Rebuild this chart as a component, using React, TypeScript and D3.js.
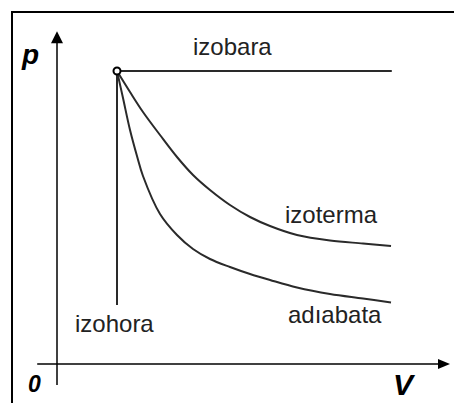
import React, { useRef, useEffect } from 'react';
import * as d3 from 'd3';

// p-V diagram: values (V in units of V0, p in units where p0 = 10)
const stateV = 1;
const stateP = 10;

const isobarV = [1, 5.58];
const isobarP = [10, 10];

const isochoreV = [1, 1];
const isochoreP = [10, 2.01];

const isothermV = [1.0, 1.217, 1.433, 1.717, 2.0, 2.267, 2.55, 2.883, 3.217, 3.55, 4.0, 4.55, 5.1, 5.567];
const isothermP = [10.0, 9.283, 8.601, 7.816, 7.065, 6.451, 5.939, 5.427, 5.017, 4.71, 4.403, 4.215, 4.113, 4.027];

const adiabatV = [1.0, 1.1, 1.217, 1.333, 1.433, 1.717, 2.0, 2.267, 2.55, 2.883, 3.217, 3.55, 4.0, 4.55, 5.1, 5.567];
const adiabatP = [10.0, 9.078, 7.986, 7.099, 6.416, 5.119, 4.403, 3.925, 3.584, 3.311, 3.072, 2.867, 2.611, 2.389, 2.235, 2.099];

const axisV = [-0.33, 6.55];
const axisP = [-0.72, 11.36];

const width = 454;
const height = 403;

const App: React.FC = () => {
    const svgRef = useRef<SVGSVGElement | null>(null);

    useEffect(() => {
        if (!svgRef.current) return;
        const svg = d3.select(svgRef.current);
        svg.selectAll('*').remove();

        // origin of the axes at (57, 364)
        const x = d3.scaleLinear().domain([0, 1]).range([57, 117]);
        const y = d3.scaleLinear().domain([0, 10]).range([364, 71]);

        const font = '"Liberation Sans", Arial, sans-serif';
        const lineColor = '#2a2a2a';

        svg.append('rect').attr('width', width).attr('height', height).attr('fill', '#fff');

        // frame (only top and left edges are visible)
        svg.append('path')
            .attr('d', `M12,${height} L12,12 L${width},12`)
            .attr('fill', 'none')
            .attr('stroke', '#000')
            .attr('stroke-width', 2);

        // axes
        const x0 = x(0), y0 = y(0);
        svg.append('line')
            .attr('x1', x(axisV[0])).attr('y1', y0)
            .attr('x2', x(axisV[1]) - 8).attr('y2', y0)
            .attr('stroke', '#000').attr('stroke-width', 1.5);
        svg.append('path')
            .attr('d', `M${x(axisV[1])},${y0} L${x(axisV[1]) - 12},${y0 - 5} L${x(axisV[1]) - 12},${y0 + 5} Z`)
            .attr('fill', '#000');

        svg.append('line')
            .attr('x1', x0).attr('y1', y(axisP[0]))
            .attr('x2', x0).attr('y2', y(axisP[1]) + 8)
            .attr('stroke', '#000').attr('stroke-width', 1.5);
        svg.append('path')
            .attr('d', `M${x0},${y(axisP[1])} L${x0 - 6},${y(axisP[1]) + 12} L${x0 + 6},${y(axisP[1]) + 12} Z`)
            .attr('fill', '#000');

        const line = d3.line<[number, number]>()
            .x(d => x(d[0]))
            .y(d => y(d[1]));
        const curve = d3.line<[number, number]>()
            .x(d => x(d[0]))
            .y(d => y(d[1]))
            .curve(d3.curveCatmullRom.alpha(0.5));

        const zip = (a: number[], b: number[]) => a.map((v, i) => [v, b[i]] as [number, number]);

        svg.append('path').attr('d', line(zip(isobarV, isobarP)))
            .attr('fill', 'none').attr('stroke', lineColor).attr('stroke-width', 2);
        svg.append('path').attr('d', line(zip(isochoreV, isochoreP)))
            .attr('fill', 'none').attr('stroke', lineColor).attr('stroke-width', 2);
        svg.append('path').attr('d', curve(zip(isothermV, isothermP)))
            .attr('fill', 'none').attr('stroke', lineColor).attr('stroke-width', 2);
        svg.append('path').attr('d', curve(zip(adiabatV, adiabatP)))
            .attr('fill', 'none').attr('stroke', lineColor).attr('stroke-width', 2);

        svg.append('circle')
            .attr('cx', x(stateV)).attr('cy', y(stateP)).attr('r', 3.5)
            .attr('fill', '#fff').attr('stroke', '#000').attr('stroke-width', 2);

        // curve labels
        const label = (t: string, px: number, py: number) =>
            svg.append('text')
                .attr('x', px).attr('y', py)
                .attr('font-family', font).attr('font-size', 24)
                .attr('fill', '#222')
                .text(t);
        label('izobara', 193, 55);
        label('izoterma', 285, 223);
        label('izohora', 75, 332);
        label('adıabata', 288, 323);

        // axis letters
        const axisLabel = (t: string, px: number, py: number, size: number) =>
            svg.append('text')
                .attr('x', px).attr('y', py)
                .attr('font-family', font).attr('font-size', size)
                .attr('font-weight', 'bold').attr('font-style', 'italic')
                .attr('fill', '#000')
                .text(t);
        axisLabel('p', 22, 64, 28);
        axisLabel('0', 28, 392, 23);
        axisLabel('V', 393, 395, 30);
    }, []);

    return (
        <svg ref={svgRef} width={width} height={height}
            style={{ position: 'absolute', left: 0, top: 0, display: 'block' }} />
    );
};

export default App;
